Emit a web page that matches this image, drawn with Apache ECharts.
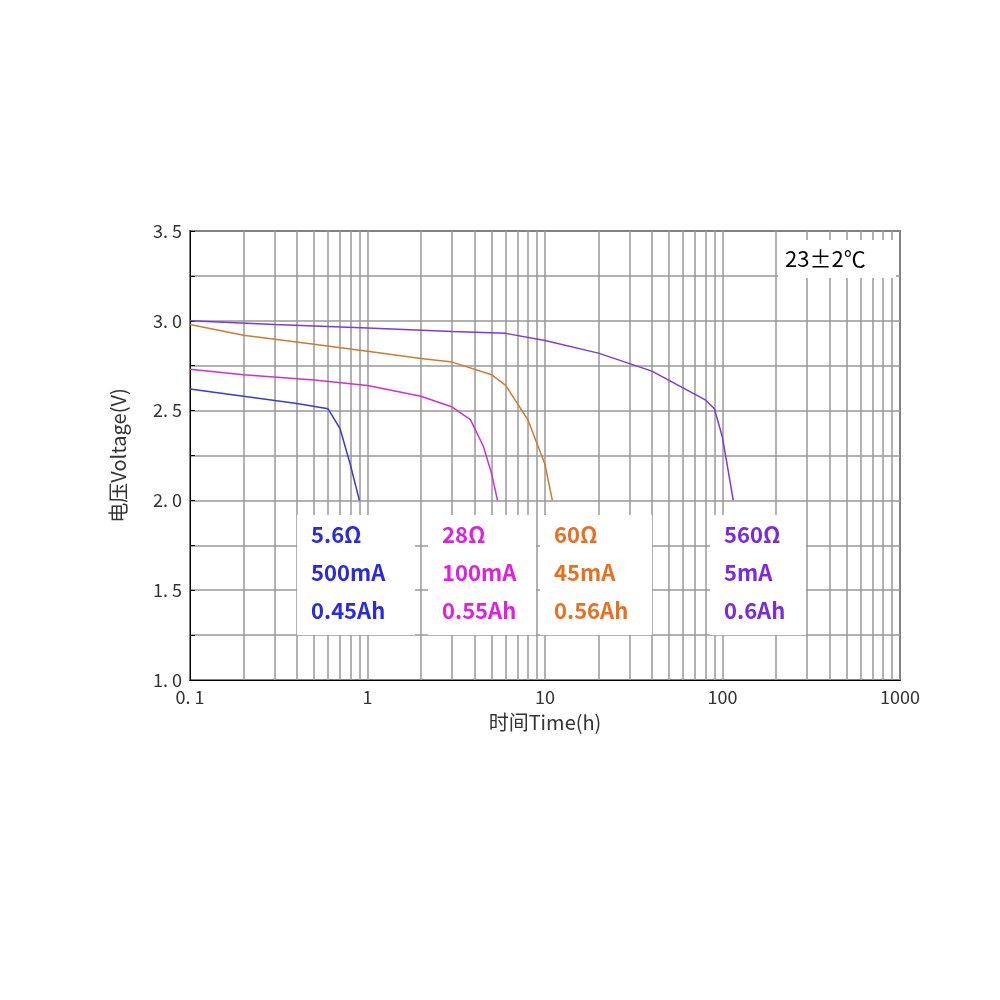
<!DOCTYPE html><html><head><meta charset="utf-8"><script src="https://cdn.jsdelivr.net/npm/echarts@6/dist/echarts.min.js"></script></head><body style="margin:0;background:#fff"><div id="c" style="width:1000px;height:1000px"></div><script>
const blueT=[0.1,0.2,0.4,0.6,0.7,0.8,0.9];
const blueV=[2.62,2.58,2.54,2.51,2.40,2.2,2.0];
const magT=[0.1,0.2,0.5,1,2,3,3.8,4.5,5,5.4];
const magV=[2.73,2.70,2.67,2.64,2.58,2.52,2.45,2.3,2.15,2.0];
const oraT=[0.1,0.2,0.5,1,2,3,5,6,8,10,11];
const oraV=[2.98,2.92,2.87,2.83,2.79,2.77,2.70,2.64,2.45,2.2,2.0];
const purT=[0.1,0.3,1,3,6,10,20,40,80,90,100,115];
const purV=[3.0,2.98,2.96,2.94,2.93,2.89,2.82,2.72,2.56,2.51,2.35,2.0];
const xTicks=[0.1,1,10,100,1000];
const gridX=[];[0.1,1,10,100].forEach(d=>{for(let k=2;k<=9;k++)gridX.push(+(d*k).toPrecision(3));});
const pair=(t,v)=>t.map((x,i)=>[x,v[i]]);
const labels=[
 {x:297,y:515,w:118,c:'#2a2ae0',t:['5.6Ω','500mA','0.45Ah']},
 {x:428,y:515,w:108,c:'#e020e0',t:['28Ω','100mA','0.55Ah']},
 {x:540,y:515,w:112,c:'#e87020',t:['60Ω','45mA','0.56Ah']},
 {x:710,y:515,w:96,c:'#7a2ae0',t:['560Ω','5mA','0.6Ah']}];
const g=[];
labels.forEach(l=>{g.push({type:'rect',shape:{x:l.x,y:l.y,width:l.w,height:120},style:{fill:'#fff'},z:10});
 l.t.forEach((s,i)=>g.push({type:'text',x:l.x+14,y:l.y+20+i*38,style:{text:s,fill:l.c,font:'bold 22px "Noto Sans CJK SC"',textVerticalAlign:'middle'},z:11}));});
g.push({type:'rect',shape:{x:778,y:240,width:118,height:38},style:{fill:'#fff'},z:10});
g.push({type:'text',x:785,y:259,style:{text:'23±2℃',fill:'#000',font:'22px "Noto Sans CJK SC"',textVerticalAlign:'middle'},z:11});
const ser=(d,c)=>({type:'line',data:d,showSymbol:false,lineStyle:{color:c,width:1.5},itemStyle:{color:c},z:5});
const chart=echarts.init(document.getElementById('c'));
chart.setOption({animation:false,
 grid:{left:190,right:100,top:231,bottom:320,show:true,borderColor:'#000',borderWidth:1.5},
 xAxis:{type:'log',logBase:10,min:0.1,max:1000,
  name:'时间Time(h)',nameLocation:'middle',nameGap:32,nameTextStyle:{fontSize:20,color:'#333',fontFamily:'Noto Sans CJK SC'},
  axisLine:{lineStyle:{color:'#000'}},axisTick:{show:false},
  axisLabel:{fontSize:18,color:'#333',fontFamily:'Noto Sans CJK SC',formatter:v=>v<1?'0. 1':String(Math.round(v))},
  splitLine:{show:true,lineStyle:{color:'#999',width:1.5}}},
 yAxis:{type:'value',min:1,max:3.5,interval:0.25,
  name:'电压Voltage(V)',nameLocation:'middle',nameGap:62,nameTextStyle:{fontSize:20,color:'#333',fontFamily:'Noto Sans CJK SC'},
  axisLine:{lineStyle:{color:'#000'}},axisTick:{show:true,inside:true,length:5,lineStyle:{color:'#000'}},
  axisLabel:{fontSize:18,color:'#333',fontFamily:'Noto Sans CJK SC',formatter:v=>(Math.abs(v*2-Math.round(v*2))<1e-6)?v.toFixed(1).replace('.','. '):''},
  splitLine:{show:true,lineStyle:{color:'#999',width:1.5}}},
 series:[
  Object.assign(ser(pair(purT,purV),'#7a3ae0'),{markLine:{silent:true,symbol:'none',label:{show:false},lineStyle:{color:'#999',width:1.5,type:'solid'},data:gridX.map(v=>({xAxis:v}))}}),
  ser(pair(oraT,oraV),'#d07a30'),
  ser(pair(magT,magV),'#d030d0'),
  ser(pair(blueT,blueV),'#3a3ad0')],
 graphic:g});
</script></body></html>
